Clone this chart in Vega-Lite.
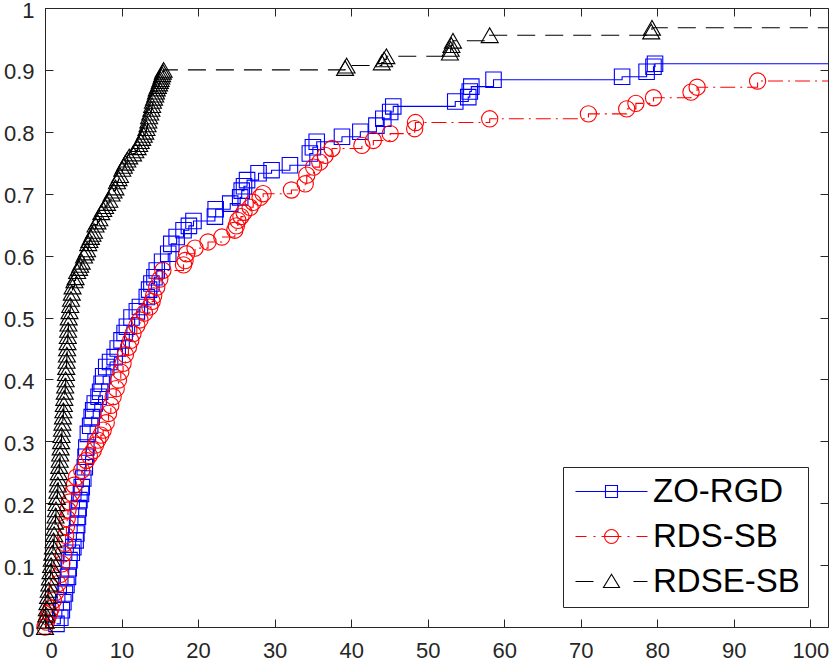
{
  "$schema": "https://vega.github.io/schema/vega-lite/v6.json",
  "width": 783,
  "height": 619,
  "autosize": {"type": "none"},
  "padding": {"left": 45, "top": 8, "right": 2, "bottom": 37},
  "background": "white",
  "config": {
    "view": {"stroke": "#262626", "strokeWidth": 1},
    "font": "Liberation Sans",
    "axis": {
      "grid": false,
      "domain": false,
      "title": null,
      "tickColor": "#262626",
      "tickWidth": 1,
      "tickSize": -8,
      "labelFont": "Liberation Sans",
      "labelFontSize": 22,
      "labelColor": "#262626"
    },
    "legend": {
      "orient": "bottom-right",
      "direction": "vertical",
      "offset": 20,
      "padding": 8,
      "strokeColor": "#262626",
      "fillColor": "white",
      "labelFont": "Liberation Sans",
      "labelFontSize": 33,
      "labelColor": "black",
      "labelLimit": 400,
      "symbolSize": 576,
      "symbolStrokeWidth": 1.1,
      "labelOffset": 49,
      "rowPadding": 11
    }
  },
  "datasets": {
    "profiles": [
      {"solver": "ZO-RGD", "tau": 1.5, "rho": 0.005},
      {"solver": "ZO-RGD", "tau": 2.0, "rho": 0.015},
      {"solver": "ZO-RGD", "tau": 2.2, "rho": 0.027},
      {"solver": "ZO-RGD", "tau": 2.4, "rho": 0.04},
      {"solver": "ZO-RGD", "tau": 2.6, "rho": 0.054},
      {"solver": "ZO-RGD", "tau": 2.8, "rho": 0.068},
      {"solver": "ZO-RGD", "tau": 3.0, "rho": 0.081},
      {"solver": "ZO-RGD", "tau": 3.1, "rho": 0.095},
      {"solver": "ZO-RGD", "tau": 3.2, "rho": 0.108},
      {"solver": "ZO-RGD", "tau": 3.5, "rho": 0.12},
      {"solver": "ZO-RGD", "tau": 3.7, "rho": 0.129},
      {"solver": "ZO-RGD", "tau": 4.0, "rho": 0.14},
      {"solver": "ZO-RGD", "tau": 4.1, "rho": 0.151},
      {"solver": "ZO-RGD", "tau": 4.2, "rho": 0.165},
      {"solver": "ZO-RGD", "tau": 4.3, "rho": 0.178},
      {"solver": "ZO-RGD", "tau": 4.4, "rho": 0.192},
      {"solver": "ZO-RGD", "tau": 4.5, "rho": 0.205},
      {"solver": "ZO-RGD", "tau": 4.7, "rho": 0.215},
      {"solver": "ZO-RGD", "tau": 4.8, "rho": 0.226},
      {"solver": "ZO-RGD", "tau": 5.0, "rho": 0.24},
      {"solver": "ZO-RGD", "tau": 5.2, "rho": 0.258},
      {"solver": "ZO-RGD", "tau": 5.3, "rho": 0.275},
      {"solver": "ZO-RGD", "tau": 5.4, "rho": 0.29},
      {"solver": "ZO-RGD", "tau": 5.6, "rho": 0.312},
      {"solver": "ZO-RGD", "tau": 5.9, "rho": 0.325},
      {"solver": "ZO-RGD", "tau": 6.1, "rho": 0.339},
      {"solver": "ZO-RGD", "tau": 6.3, "rho": 0.35},
      {"solver": "ZO-RGD", "tau": 6.5, "rho": 0.361},
      {"solver": "ZO-RGD", "tau": 7.0, "rho": 0.372},
      {"solver": "ZO-RGD", "tau": 7.2, "rho": 0.38},
      {"solver": "ZO-RGD", "tau": 7.4, "rho": 0.393},
      {"solver": "ZO-RGD", "tau": 7.6, "rho": 0.405},
      {"solver": "ZO-RGD", "tau": 8.0, "rho": 0.42},
      {"solver": "ZO-RGD", "tau": 8.5, "rho": 0.428},
      {"solver": "ZO-RGD", "tau": 9.1, "rho": 0.436},
      {"solver": "ZO-RGD", "tau": 9.5, "rho": 0.45},
      {"solver": "ZO-RGD", "tau": 10.0, "rho": 0.463},
      {"solver": "ZO-RGD", "tau": 10.4, "rho": 0.475},
      {"solver": "ZO-RGD", "tau": 10.7, "rho": 0.485},
      {"solver": "ZO-RGD", "tau": 11.3, "rho": 0.5},
      {"solver": "ZO-RGD", "tau": 12.0, "rho": 0.51},
      {"solver": "ZO-RGD", "tau": 12.4, "rho": 0.517},
      {"solver": "ZO-RGD", "tau": 13.3, "rho": 0.533},
      {"solver": "ZO-RGD", "tau": 13.6, "rho": 0.545},
      {"solver": "ZO-RGD", "tau": 13.9, "rho": 0.555},
      {"solver": "ZO-RGD", "tau": 14.3, "rho": 0.565},
      {"solver": "ZO-RGD", "tau": 14.6, "rho": 0.576},
      {"solver": "ZO-RGD", "tau": 15.3, "rho": 0.59},
      {"solver": "ZO-RGD", "tau": 16.1, "rho": 0.603},
      {"solver": "ZO-RGD", "tau": 16.5, "rho": 0.619},
      {"solver": "ZO-RGD", "tau": 17.2, "rho": 0.63},
      {"solver": "ZO-RGD", "tau": 18.1, "rho": 0.641},
      {"solver": "ZO-RGD", "tau": 18.8, "rho": 0.648},
      {"solver": "ZO-RGD", "tau": 19.4, "rho": 0.656},
      {"solver": "ZO-RGD", "tau": 22.2, "rho": 0.663},
      {"solver": "ZO-RGD", "tau": 22.3, "rho": 0.675},
      {"solver": "ZO-RGD", "tau": 24.2, "rho": 0.684},
      {"solver": "ZO-RGD", "tau": 25.5, "rho": 0.694},
      {"solver": "ZO-RGD", "tau": 25.7, "rho": 0.705},
      {"solver": "ZO-RGD", "tau": 26.0, "rho": 0.712},
      {"solver": "ZO-RGD", "tau": 26.4, "rho": 0.722},
      {"solver": "ZO-RGD", "tau": 27.9, "rho": 0.733},
      {"solver": "ZO-RGD", "tau": 29.6, "rho": 0.738},
      {"solver": "ZO-RGD", "tau": 32.0, "rho": 0.746},
      {"solver": "ZO-RGD", "tau": 34.6, "rho": 0.765},
      {"solver": "ZO-RGD", "tau": 35.0, "rho": 0.775},
      {"solver": "ZO-RGD", "tau": 35.5, "rho": 0.784},
      {"solver": "ZO-RGD", "tau": 38.8, "rho": 0.792},
      {"solver": "ZO-RGD", "tau": 41.2, "rho": 0.8},
      {"solver": "ZO-RGD", "tau": 43.3, "rho": 0.81},
      {"solver": "ZO-RGD", "tau": 44.2, "rho": 0.821},
      {"solver": "ZO-RGD", "tau": 45.1, "rho": 0.832},
      {"solver": "ZO-RGD", "tau": 45.5, "rho": 0.841},
      {"solver": "ZO-RGD", "tau": 53.6, "rho": 0.849},
      {"solver": "ZO-RGD", "tau": 55.3, "rho": 0.856},
      {"solver": "ZO-RGD", "tau": 55.5, "rho": 0.865},
      {"solver": "ZO-RGD", "tau": 55.7, "rho": 0.873},
      {"solver": "ZO-RGD", "tau": 58.6, "rho": 0.884},
      {"solver": "ZO-RGD", "tau": 75.4, "rho": 0.889},
      {"solver": "ZO-RGD", "tau": 78.6, "rho": 0.897},
      {"solver": "ZO-RGD", "tau": 79.5, "rho": 0.905},
      {"solver": "ZO-RGD", "tau": 79.7, "rho": 0.91},
      {"solver": "ZO-RGD", "tau": 102.3, "rho": 0.91},
      {"solver": "RDS-SB", "tau": 0.0, "rho": 0.0},
      {"solver": "RDS-SB", "tau": 0.2, "rho": 0.008},
      {"solver": "RDS-SB", "tau": 0.4, "rho": 0.016},
      {"solver": "RDS-SB", "tau": 0.6, "rho": 0.023},
      {"solver": "RDS-SB", "tau": 0.8, "rho": 0.03},
      {"solver": "RDS-SB", "tau": 1.1, "rho": 0.043},
      {"solver": "RDS-SB", "tau": 1.4, "rho": 0.056},
      {"solver": "RDS-SB", "tau": 1.7, "rho": 0.07},
      {"solver": "RDS-SB", "tau": 2.0, "rho": 0.085},
      {"solver": "RDS-SB", "tau": 2.2, "rho": 0.102},
      {"solver": "RDS-SB", "tau": 2.4, "rho": 0.118},
      {"solver": "RDS-SB", "tau": 2.6, "rho": 0.135},
      {"solver": "RDS-SB", "tau": 2.7, "rho": 0.148},
      {"solver": "RDS-SB", "tau": 2.8, "rho": 0.162},
      {"solver": "RDS-SB", "tau": 2.9, "rho": 0.175},
      {"solver": "RDS-SB", "tau": 3.0, "rho": 0.189},
      {"solver": "RDS-SB", "tau": 3.2, "rho": 0.202},
      {"solver": "RDS-SB", "tau": 3.5, "rho": 0.216},
      {"solver": "RDS-SB", "tau": 3.8, "rho": 0.229},
      {"solver": "RDS-SB", "tau": 4.1, "rho": 0.242},
      {"solver": "RDS-SB", "tau": 4.8, "rho": 0.253},
      {"solver": "RDS-SB", "tau": 5.4, "rho": 0.269},
      {"solver": "RDS-SB", "tau": 5.8, "rho": 0.277},
      {"solver": "RDS-SB", "tau": 6.3, "rho": 0.285},
      {"solver": "RDS-SB", "tau": 6.6, "rho": 0.294},
      {"solver": "RDS-SB", "tau": 6.9, "rho": 0.302},
      {"solver": "RDS-SB", "tau": 7.3, "rho": 0.31},
      {"solver": "RDS-SB", "tau": 7.6, "rho": 0.318},
      {"solver": "RDS-SB", "tau": 8.0, "rho": 0.33},
      {"solver": "RDS-SB", "tau": 8.3, "rho": 0.345},
      {"solver": "RDS-SB", "tau": 8.6, "rho": 0.358},
      {"solver": "RDS-SB", "tau": 8.9, "rho": 0.372},
      {"solver": "RDS-SB", "tau": 9.3, "rho": 0.385},
      {"solver": "RDS-SB", "tau": 9.6, "rho": 0.399},
      {"solver": "RDS-SB", "tau": 9.9, "rho": 0.412},
      {"solver": "RDS-SB", "tau": 10.2, "rho": 0.426},
      {"solver": "RDS-SB", "tau": 10.5, "rho": 0.44},
      {"solver": "RDS-SB", "tau": 10.9, "rho": 0.452},
      {"solver": "RDS-SB", "tau": 11.2, "rho": 0.463},
      {"solver": "RDS-SB", "tau": 11.5, "rho": 0.474},
      {"solver": "RDS-SB", "tau": 12.0, "rho": 0.487},
      {"solver": "RDS-SB", "tau": 12.4, "rho": 0.496},
      {"solver": "RDS-SB", "tau": 13.0, "rho": 0.507},
      {"solver": "RDS-SB", "tau": 13.7, "rho": 0.517},
      {"solver": "RDS-SB", "tau": 14.0, "rho": 0.526},
      {"solver": "RDS-SB", "tau": 14.2, "rho": 0.535},
      {"solver": "RDS-SB", "tau": 14.6, "rho": 0.549},
      {"solver": "RDS-SB", "tau": 15.0, "rho": 0.562},
      {"solver": "RDS-SB", "tau": 15.4, "rho": 0.576},
      {"solver": "RDS-SB", "tau": 18.1, "rho": 0.585},
      {"solver": "RDS-SB", "tau": 18.3, "rho": 0.592},
      {"solver": "RDS-SB", "tau": 18.5, "rho": 0.603},
      {"solver": "RDS-SB", "tau": 19.6, "rho": 0.612},
      {"solver": "RDS-SB", "tau": 21.3, "rho": 0.622},
      {"solver": "RDS-SB", "tau": 23.1, "rho": 0.63},
      {"solver": "RDS-SB", "tau": 24.8, "rho": 0.641},
      {"solver": "RDS-SB", "tau": 25.0, "rho": 0.648},
      {"solver": "RDS-SB", "tau": 25.2, "rho": 0.657},
      {"solver": "RDS-SB", "tau": 25.6, "rho": 0.663},
      {"solver": "RDS-SB", "tau": 26.0, "rho": 0.67},
      {"solver": "RDS-SB", "tau": 26.8, "rho": 0.678},
      {"solver": "RDS-SB", "tau": 27.2, "rho": 0.686},
      {"solver": "RDS-SB", "tau": 28.1, "rho": 0.694},
      {"solver": "RDS-SB", "tau": 28.5, "rho": 0.7},
      {"solver": "RDS-SB", "tau": 32.2, "rho": 0.706},
      {"solver": "RDS-SB", "tau": 34.0, "rho": 0.716},
      {"solver": "RDS-SB", "tau": 34.2, "rho": 0.73},
      {"solver": "RDS-SB", "tau": 35.1, "rho": 0.743},
      {"solver": "RDS-SB", "tau": 35.9, "rho": 0.751},
      {"solver": "RDS-SB", "tau": 36.6, "rho": 0.762},
      {"solver": "RDS-SB", "tau": 37.5, "rho": 0.773},
      {"solver": "RDS-SB", "tau": 41.4, "rho": 0.778},
      {"solver": "RDS-SB", "tau": 42.9, "rho": 0.786},
      {"solver": "RDS-SB", "tau": 45.1, "rho": 0.797},
      {"solver": "RDS-SB", "tau": 48.3, "rho": 0.805},
      {"solver": "RDS-SB", "tau": 48.4, "rho": 0.815},
      {"solver": "RDS-SB", "tau": 58.1, "rho": 0.821},
      {"solver": "RDS-SB", "tau": 71.0, "rho": 0.829},
      {"solver": "RDS-SB", "tau": 76.0, "rho": 0.837},
      {"solver": "RDS-SB", "tau": 77.2, "rho": 0.846},
      {"solver": "RDS-SB", "tau": 79.5, "rho": 0.855},
      {"solver": "RDS-SB", "tau": 84.4, "rho": 0.864},
      {"solver": "RDS-SB", "tau": 85.2, "rho": 0.872},
      {"solver": "RDS-SB", "tau": 93.1, "rho": 0.882},
      {"solver": "RDS-SB", "tau": 102.3, "rho": 0.882},
      {"solver": "RDSE-SB", "tau": 0.0, "rho": 0.0},
      {"solver": "RDSE-SB", "tau": 0.08, "rho": 0.01},
      {"solver": "RDSE-SB", "tau": 0.16, "rho": 0.02},
      {"solver": "RDSE-SB", "tau": 0.24, "rho": 0.03},
      {"solver": "RDSE-SB", "tau": 0.32, "rho": 0.04},
      {"solver": "RDSE-SB", "tau": 0.4, "rho": 0.05},
      {"solver": "RDSE-SB", "tau": 0.48, "rho": 0.06},
      {"solver": "RDSE-SB", "tau": 0.56, "rho": 0.07},
      {"solver": "RDSE-SB", "tau": 0.64, "rho": 0.08},
      {"solver": "RDSE-SB", "tau": 0.72, "rho": 0.09},
      {"solver": "RDSE-SB", "tau": 0.8, "rho": 0.1},
      {"solver": "RDSE-SB", "tau": 0.88, "rho": 0.11},
      {"solver": "RDSE-SB", "tau": 0.96, "rho": 0.12},
      {"solver": "RDSE-SB", "tau": 1.04, "rho": 0.13},
      {"solver": "RDSE-SB", "tau": 1.12, "rho": 0.14},
      {"solver": "RDSE-SB", "tau": 1.2, "rho": 0.15},
      {"solver": "RDSE-SB", "tau": 1.26, "rho": 0.16},
      {"solver": "RDSE-SB", "tau": 1.32, "rho": 0.17},
      {"solver": "RDSE-SB", "tau": 1.38, "rho": 0.18},
      {"solver": "RDSE-SB", "tau": 1.44, "rho": 0.19},
      {"solver": "RDSE-SB", "tau": 1.5, "rho": 0.2},
      {"solver": "RDSE-SB", "tau": 1.56, "rho": 0.21},
      {"solver": "RDSE-SB", "tau": 1.62, "rho": 0.22},
      {"solver": "RDSE-SB", "tau": 1.68, "rho": 0.23},
      {"solver": "RDSE-SB", "tau": 1.74, "rho": 0.24},
      {"solver": "RDSE-SB", "tau": 1.8, "rho": 0.25},
      {"solver": "RDSE-SB", "tau": 1.86, "rho": 0.26},
      {"solver": "RDSE-SB", "tau": 1.92, "rho": 0.27},
      {"solver": "RDSE-SB", "tau": 1.98, "rho": 0.28},
      {"solver": "RDSE-SB", "tau": 2.04, "rho": 0.29},
      {"solver": "RDSE-SB", "tau": 2.1, "rho": 0.3},
      {"solver": "RDSE-SB", "tau": 2.16, "rho": 0.31},
      {"solver": "RDSE-SB", "tau": 2.22, "rho": 0.32},
      {"solver": "RDSE-SB", "tau": 2.28, "rho": 0.33},
      {"solver": "RDSE-SB", "tau": 2.34, "rho": 0.34},
      {"solver": "RDSE-SB", "tau": 2.4, "rho": 0.35},
      {"solver": "RDSE-SB", "tau": 2.46, "rho": 0.36},
      {"solver": "RDSE-SB", "tau": 2.52, "rho": 0.37},
      {"solver": "RDSE-SB", "tau": 2.58, "rho": 0.38},
      {"solver": "RDSE-SB", "tau": 2.64, "rho": 0.39},
      {"solver": "RDSE-SB", "tau": 2.7, "rho": 0.4},
      {"solver": "RDSE-SB", "tau": 2.74, "rho": 0.41},
      {"solver": "RDSE-SB", "tau": 2.78, "rho": 0.42},
      {"solver": "RDSE-SB", "tau": 2.82, "rho": 0.43},
      {"solver": "RDSE-SB", "tau": 2.86, "rho": 0.44},
      {"solver": "RDSE-SB", "tau": 2.9, "rho": 0.45},
      {"solver": "RDSE-SB", "tau": 2.94, "rho": 0.46},
      {"solver": "RDSE-SB", "tau": 2.98, "rho": 0.47},
      {"solver": "RDSE-SB", "tau": 3.02, "rho": 0.48},
      {"solver": "RDSE-SB", "tau": 3.06, "rho": 0.49},
      {"solver": "RDSE-SB", "tau": 3.1, "rho": 0.5},
      {"solver": "RDSE-SB", "tau": 3.2, "rho": 0.51},
      {"solver": "RDSE-SB", "tau": 3.3, "rho": 0.52},
      {"solver": "RDSE-SB", "tau": 3.4, "rho": 0.53},
      {"solver": "RDSE-SB", "tau": 3.5, "rho": 0.54},
      {"solver": "RDSE-SB", "tau": 3.6, "rho": 0.55},
      {"solver": "RDSE-SB", "tau": 3.85, "rho": 0.56},
      {"solver": "RDSE-SB", "tau": 4.0, "rho": 0.565},
      {"solver": "RDSE-SB", "tau": 4.2, "rho": 0.575},
      {"solver": "RDSE-SB", "tau": 4.45, "rho": 0.58},
      {"solver": "RDSE-SB", "tau": 4.6, "rho": 0.585},
      {"solver": "RDSE-SB", "tau": 4.8, "rho": 0.59},
      {"solver": "RDSE-SB", "tau": 5.1, "rho": 0.6},
      {"solver": "RDSE-SB", "tau": 5.3, "rho": 0.605},
      {"solver": "RDSE-SB", "tau": 5.5, "rho": 0.61},
      {"solver": "RDSE-SB", "tau": 5.65, "rho": 0.62},
      {"solver": "RDSE-SB", "tau": 5.8, "rho": 0.625},
      {"solver": "RDSE-SB", "tau": 6.0, "rho": 0.63},
      {"solver": "RDSE-SB", "tau": 6.2, "rho": 0.635},
      {"solver": "RDSE-SB", "tau": 6.4, "rho": 0.64},
      {"solver": "RDSE-SB", "tau": 6.6, "rho": 0.65},
      {"solver": "RDSE-SB", "tau": 6.85, "rho": 0.655},
      {"solver": "RDSE-SB", "tau": 7.1, "rho": 0.66},
      {"solver": "RDSE-SB", "tau": 7.35, "rho": 0.67},
      {"solver": "RDSE-SB", "tau": 7.6, "rho": 0.675},
      {"solver": "RDSE-SB", "tau": 7.85, "rho": 0.68},
      {"solver": "RDSE-SB", "tau": 8.1, "rho": 0.685},
      {"solver": "RDSE-SB", "tau": 8.4, "rho": 0.69},
      {"solver": "RDSE-SB", "tau": 8.7, "rho": 0.7},
      {"solver": "RDSE-SB", "tau": 8.95, "rho": 0.705},
      {"solver": "RDSE-SB", "tau": 9.2, "rho": 0.71},
      {"solver": "RDSE-SB", "tau": 9.4, "rho": 0.72},
      {"solver": "RDSE-SB", "tau": 9.6, "rho": 0.725},
      {"solver": "RDSE-SB", "tau": 9.8, "rho": 0.73},
      {"solver": "RDSE-SB", "tau": 10.1, "rho": 0.74},
      {"solver": "RDSE-SB", "tau": 10.3, "rho": 0.745},
      {"solver": "RDSE-SB", "tau": 10.5, "rho": 0.75},
      {"solver": "RDSE-SB", "tau": 10.75, "rho": 0.755},
      {"solver": "RDSE-SB", "tau": 11.0, "rho": 0.76},
      {"solver": "RDSE-SB", "tau": 11.5, "rho": 0.765},
      {"solver": "RDSE-SB", "tau": 11.8, "rho": 0.77},
      {"solver": "RDSE-SB", "tau": 12.1, "rho": 0.775},
      {"solver": "RDSE-SB", "tau": 12.3, "rho": 0.78},
      {"solver": "RDSE-SB", "tau": 12.5, "rho": 0.785},
      {"solver": "RDSE-SB", "tau": 12.7, "rho": 0.79},
      {"solver": "RDSE-SB", "tau": 12.9, "rho": 0.795},
      {"solver": "RDSE-SB", "tau": 13.1, "rho": 0.8},
      {"solver": "RDSE-SB", "tau": 13.25, "rho": 0.806},
      {"solver": "RDSE-SB", "tau": 13.4, "rho": 0.812},
      {"solver": "RDSE-SB", "tau": 13.5, "rho": 0.818},
      {"solver": "RDSE-SB", "tau": 13.6, "rho": 0.825},
      {"solver": "RDSE-SB", "tau": 13.75, "rho": 0.831},
      {"solver": "RDSE-SB", "tau": 13.9, "rho": 0.837},
      {"solver": "RDSE-SB", "tau": 14.0, "rho": 0.843},
      {"solver": "RDSE-SB", "tau": 14.1, "rho": 0.85},
      {"solver": "RDSE-SB", "tau": 14.25, "rho": 0.855},
      {"solver": "RDSE-SB", "tau": 14.4, "rho": 0.86},
      {"solver": "RDSE-SB", "tau": 14.5, "rho": 0.865},
      {"solver": "RDSE-SB", "tau": 14.6, "rho": 0.87},
      {"solver": "RDSE-SB", "tau": 14.75, "rho": 0.874},
      {"solver": "RDSE-SB", "tau": 14.9, "rho": 0.878},
      {"solver": "RDSE-SB", "tau": 15.0, "rho": 0.882},
      {"solver": "RDSE-SB", "tau": 15.1, "rho": 0.885},
      {"solver": "RDSE-SB", "tau": 15.2, "rho": 0.889},
      {"solver": "RDSE-SB", "tau": 15.3, "rho": 0.893},
      {"solver": "RDSE-SB", "tau": 15.4, "rho": 0.897},
      {"solver": "RDSE-SB", "tau": 15.5, "rho": 0.9},
      {"solver": "RDSE-SB", "tau": 39.2, "rho": 0.903},
      {"solver": "RDSE-SB", "tau": 39.4, "rho": 0.907},
      {"solver": "RDSE-SB", "tau": 44.0, "rho": 0.912},
      {"solver": "RDSE-SB", "tau": 44.3, "rho": 0.917},
      {"solver": "RDSE-SB", "tau": 44.6, "rho": 0.922},
      {"solver": "RDSE-SB", "tau": 52.9, "rho": 0.928},
      {"solver": "RDSE-SB", "tau": 53.0, "rho": 0.934},
      {"solver": "RDSE-SB", "tau": 53.1, "rho": 0.94},
      {"solver": "RDSE-SB", "tau": 53.3, "rho": 0.947},
      {"solver": "RDSE-SB", "tau": 58.1, "rho": 0.956},
      {"solver": "RDSE-SB", "tau": 79.2, "rho": 0.962},
      {"solver": "RDSE-SB", "tau": 79.3, "rho": 0.968},
      {"solver": "RDSE-SB", "tau": 102.3, "rho": 0.968}
    ]
  },
  "data": {"name": "profiles"},
  "layer": [
    {
      "mark": {"type": "line", "interpolate": "step-after", "strokeWidth": 1.1},
      "encoding": {
        "x": {"field": "tau", "type": "quantitative", "scale": {"domain": [0, 102.3], "nice": false, "zero": false},
              "axis": {"orient": "bottom", "values": [0, 10, 20, 30, 40, 50, 60, 70, 80, 90, 100], "format": "d", "labelPadding": 21}},
        "y": {"field": "rho", "type": "quantitative", "scale": {"domain": [0, 1], "nice": false},
              "axis": {"orient": "left", "values": [0, 0.1, 0.2, 0.3, 0.4, 0.5, 0.6, 0.7, 0.8, 0.9, 1], "format": ".1~f", "labelPadding": 19, "labelOffset": 2}},
        "color": {
          "field": "solver", "type": "nominal", "sort": null,
          "scale": {"domain": ["ZO-RGD", "RDS-SB", "RDSE-SB"], "range": ["#0000ff", "#ff0000", "#000000"]},
          "legend": {
            "title": null,
            "encoding": {
              "symbols": {
                "shape": {"value": {"expr": "datum.value === 'ZO-RGD' ? 'M-1,0L5,0M1.5,-0.5L2.5,-0.5L2.5,0.5L1.5,0.5Z' : datum.value === 'RDS-SB' ? 'M-1,0L-0.08,0M0.5,0L0.67,0M1.17,0L2.83,0M3.33,0L3.5,0M4.08,0L5,0M2.58,0A0.58,0.58 0 1,1 1.42,0A0.58,0.58 0 1,1 2.58,0' : 'M-1,0L0.5,0M3.83,0L5,0M2,-0.6L2.67,0.5L1.33,0.5Z'"}},
                "fill": {"value": "transparent"},
                "strokeWidth": {"value": 1.1}
              }
            }
          }
        },
        "strokeDash": {
          "field": "solver", "type": "nominal", "legend": null,
          "scale": {"domain": ["RDS-SB", "RDSE-SB", "ZO-RGD"], "range": [[15, 5, 2, 5], [18, 10], [1, 0]]}
        }
      }
    },
    {
      "transform": [{"filter": "datum.tau < 102"}],
      "mark": {"type": "point", "filled": false, "strokeWidth": 1.1, "opacity": 1},
      "encoding": {
        "x": {"field": "tau", "type": "quantitative",
              "axis": {"orient": "top", "values": [0, 10, 20, 30, 40, 50, 60, 70, 80, 90, 100], "labels": false}},
        "y": {"field": "rho", "type": "quantitative",
              "axis": {"orient": "right", "values": [0, 0.1, 0.2, 0.3, 0.4, 0.5, 0.6, 0.7, 0.8, 0.9, 1], "labels": false}},
        "color": {
          "field": "solver", "type": "nominal", "sort": null,
          "legend": {
            "title": null,
            "encoding": {
              "symbols": {
                "shape": {"value": {"expr": "datum.value === 'ZO-RGD' ? 'M-1,0L5,0M1.5,-0.5L2.5,-0.5L2.5,0.5L1.5,0.5Z' : datum.value === 'RDS-SB' ? 'M-1,0L-0.08,0M0.5,0L0.67,0M1.17,0L2.83,0M3.33,0L3.5,0M4.08,0L5,0M2.58,0A0.58,0.58 0 1,1 1.42,0A0.58,0.58 0 1,1 2.58,0' : 'M-1,0L0.5,0M3.83,0L5,0M2,-0.6L2.67,0.5L1.33,0.5Z'"}},
                "fill": {"value": "transparent"},
                "strokeWidth": {"value": 1.1}
              }
            }
          }
        },
        "shape": {
          "field": "solver", "type": "nominal", "legend": null,
          "scale": {"domain": ["RDSE-SB", "ZO-RGD", "RDS-SB"], "range": ["triangle-up", "square", "circle"]}
        },
        "size": {
          "field": "solver", "type": "nominal", "legend": null,
          "scale": {"domain": ["RDSE-SB", "RDS-SB", "ZO-RGD"], "range": [289, 240, 169]}
        }
      }
    }
  ],
  "resolve": {"axis": {"x": "independent", "y": "independent"}}
}
